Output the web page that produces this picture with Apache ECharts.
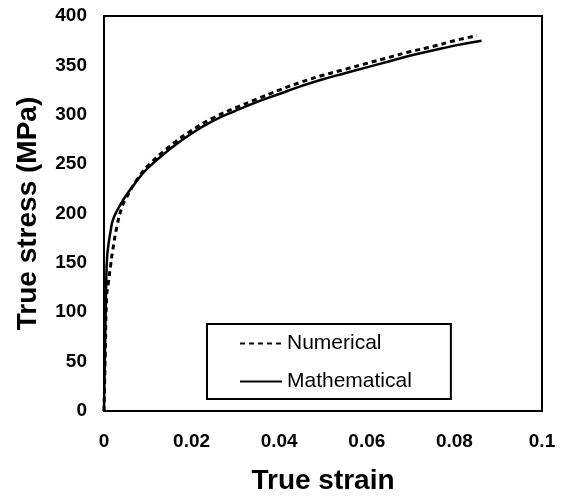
<!DOCTYPE html>
<html>
<head>
<meta charset="utf-8">
<script src="https://cdn.jsdelivr.net/npm/echarts@6/dist/echarts.min.js"></script>
<style>
  html, body { margin: 0; padding: 0; background: #fff; }
  #chart { width: 563px; height: 497px; }
</style>
</head>
<body>
<div id="chart"></div>
<script>
// true strain / true stress (MPa)
const numericalStrain = [0, 0.0003, 0.0006, 0.001, 0.0015, 0.002, 0.003, 0.004, 0.005, 0.0075, 0.01, 0.015, 0.02, 0.025, 0.03, 0.035, 0.04, 0.045, 0.05, 0.055, 0.06, 0.065, 0.07, 0.075, 0.08, 0.0851];
const numericalStress = [0, 60, 115, 130, 147, 163, 188, 205, 215, 234, 248, 268, 284, 297, 307, 316, 325, 333, 340, 346, 352, 358, 364, 369, 375, 380];

const mathStrain = [0, 0.0003, 0.0005, 0.0007, 0.001, 0.0015, 0.002, 0.003, 0.004, 0.005, 0.0075, 0.01, 0.015, 0.02, 0.025, 0.03, 0.035, 0.04, 0.045, 0.05, 0.055, 0.06, 0.065, 0.07, 0.075, 0.08, 0.0862];
const mathStress = [0, 80, 130, 155, 168, 182, 193, 203, 211, 218, 233, 246, 265, 281, 294, 304, 313, 321, 329, 336, 342, 348, 354, 360, 365, 370, 375];

const seriesNames = ["Numerical", "Mathematical"];
const xTicks = { min: 0, max: 0.1, interval: 0.02 };
const yTicks = { min: 0, max: 400, interval: 50 };

const font = "'Liberation Sans', Arial, sans-serif";
const chart = echarts.init(document.getElementById("chart"), null, { renderer: "canvas" });

function pairs(xs, ys) {
  return xs.map((x, i) => [x, ys[i]]);
}

chart.setOption({
  backgroundColor: "#fff",
  animation: false,
  textStyle: { fontFamily: font, color: "#000" },
  grid: {
    left: 104,
    right: 21,
    top: 16,
    bottom: 86,
    outerBoundsMode: "none",
    show: true,
    borderColor: "#000",
    borderWidth: 2
  },
  legend: {
    data: seriesNames,
    orient: "vertical",
    left: 207,
    top: 324,
    padding: [9, 39, 7, 32],
    itemGap: 17,
    itemWidth: 42,
    itemHeight: 14,
    itemStyle: { opacity: 0 },
    borderColor: "#000",
    borderWidth: 2,
    backgroundColor: "#fff",
    textStyle: { fontFamily: font, fontSize: 21, color: "#000" }
  },
  xAxis: {
    type: "value",
    ...xTicks,
    name: "True strain",
    nameLocation: "middle",
    nameGap: 56,
    nameTextStyle: { fontFamily: font, fontSize: 28, fontWeight: "bold", color: "#000" },
    axisLine: { show: true, lineStyle: { color: "#000", width: 2 } },
    axisTick: { show: false },
    splitLine: { show: false },
    axisLabel: { fontFamily: font, fontSize: 19, fontWeight: "bold", color: "#000", margin: 21 }
  },
  yAxis: {
    type: "value",
    ...yTicks,
    name: "True stress (MPa)",
    nameLocation: "middle",
    nameGap: 62,
    nameTextStyle: { fontFamily: font, fontSize: 28, fontWeight: "bold", color: "#000" },
    axisLine: { show: true, lineStyle: { color: "#000", width: 2 } },
    axisTick: { show: false },
    splitLine: { show: false },
    axisLabel: { fontFamily: font, fontSize: 19, fontWeight: "bold", color: "#000", margin: 17 }
  },
  series: [
    {
      name: seriesNames[0],
      type: "line",
      symbol: "none",
      smooth: true,
      lineStyle: { color: "#000", width: 3, type: [5, 4] },
      itemStyle: { color: "#000" },
      data: pairs(numericalStrain, numericalStress),
      z: 3
    },
    {
      name: seriesNames[1],
      type: "line",
      symbol: "none",
      smooth: true,
      lineStyle: { color: "#000", width: 2.5 },
      itemStyle: { color: "#000" },
      data: pairs(mathStrain, mathStress),
      z: 2
    }
  ]
});
</script>
</body>
</html>
